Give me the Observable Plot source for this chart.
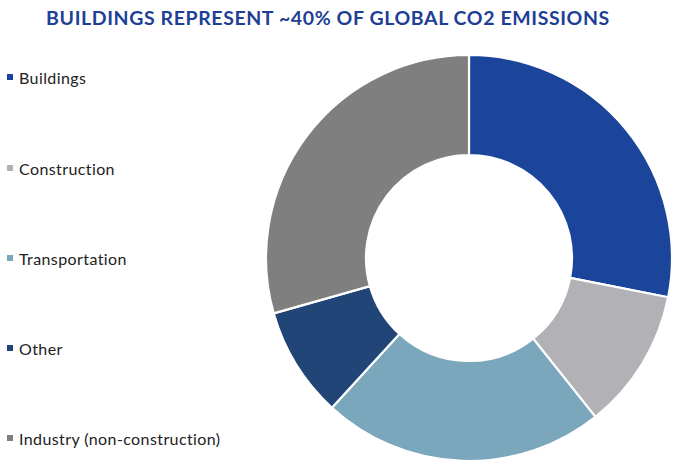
<!DOCTYPE html>
<html><head><meta charset="utf-8">
<script src="https://cdn.jsdelivr.net/npm/d3@7"></script>
<script src="https://cdn.jsdelivr.net/npm/@observablehq/plot@0.6"></script>
<style>
html,body{margin:0;padding:0;background:#fff;}
#wrap{position:relative;width:680px;height:464px;overflow:hidden;font-family:Lato,"Noto Sans",sans-serif;}
#title{position:absolute;left:0;top:0;width:656px;text-align:center;font-size:19.5px;font-weight:700;color:#1e3f95;line-height:36px;letter-spacing:0.6px;}
#chart{position:absolute;left:0;top:36px;}
.leg{position:absolute;left:7px;font-size:16px;letter-spacing:0.4px;color:#222;display:flex;align-items:center;height:20px;white-space:nowrap;}
.leg span.sw{display:inline-block;width:6px;height:6px;margin-right:6px;}
</style></head>
<body><div id="wrap"><div id="title">BUILDINGS REPRESENT ~40% OF GLOBAL CO2 EMISSIONS</div><div id="chart"></div></div>
<script>
const categories = ["Buildings","Construction","Transportation","Other","Industry (non-construction)"];
const shares = [28.1, 11.2, 22.5, 8.8, 29.4];
const colors = ["#1b449b","#b2b2b6","#7ba7bc","#204576","#7f7f80"];

const data = categories.map((c,i)=>({category:c, value:shares[i]}));
const pie = d3.pie().value(d=>d.value).sort(null);
const arcs = pie(data);

const W=680, H=428, cx=469, cy=222, R=203, r0=103;

function donut(index, scales, values, dims, context){
  const g = d3.create("svg:g");
  const x0 = scales.x(0), y0 = scales.y(0);
  const outer = scales.x(1)-scales.x(0);
  const inner = outer*(r0/R);
  const arc = d3.arc().innerRadius(inner).outerRadius(outer);
  g.attr("transform",`translate(${x0},${y0})`);
  g.selectAll("path").data(arcs).join("path")
    .attr("d",arc)
    .attr("fill",d=>scales.color(d.data.category))
    .attr("stroke","#fff").attr("stroke-width",2.2).attr("stroke-linejoin","round");
  return g.node();
}

const chart = Plot.plot({
  width:W, height:H,
  margin:0,
  x:{domain:[-1,1], range:[cx-R, cx+R], axis:null},
  y:{domain:[-1,1], range:[cy+R, cy-R], axis:null},
  color:{domain:categories, range:colors},
  marks:[donut]
});
document.getElementById("chart").appendChild(chart);

const wrap=document.getElementById("wrap");
const legY=[77,168,258,348,438];
categories.forEach((c,i)=>{
  const d=document.createElement("div");
  d.className="leg";
  d.style.top=(legY[i]-10)+"px";
  d.innerHTML=`<span class="sw" style="background:${colors[i]}"></span>${c}`;
  wrap.appendChild(d);
});
</script></body></html>
